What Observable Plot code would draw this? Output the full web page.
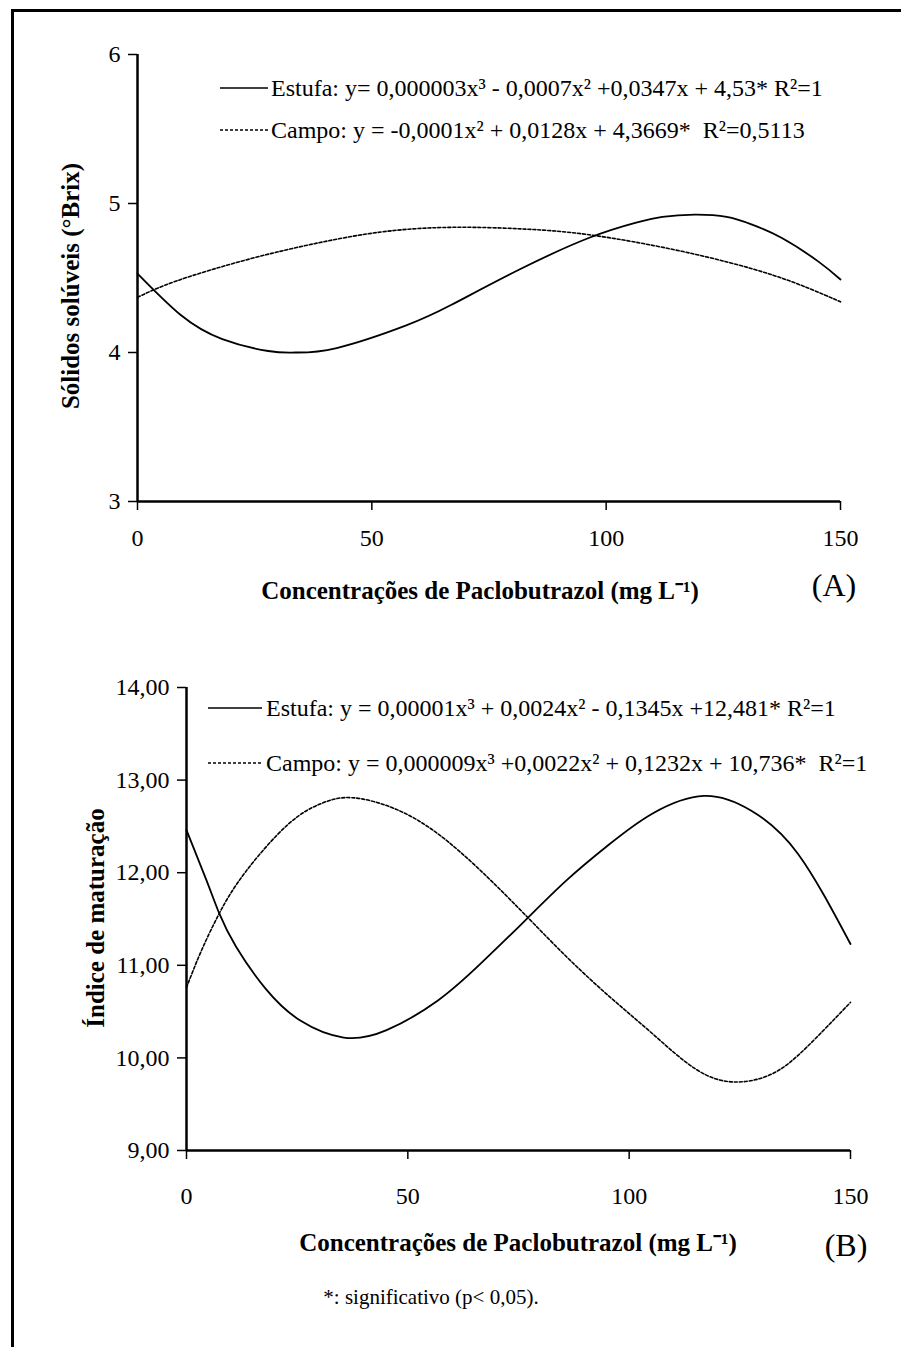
<!DOCTYPE html>
<html><head><meta charset="utf-8">
<script src="https://cdn.jsdelivr.net/npm/d3@7"></script>
<script src="https://cdn.jsdelivr.net/npm/@observablehq/plot@0.6"></script>
<style>
body{margin:0;background:#fff;}
#root{position:relative;width:901px;height:1347px;overflow:hidden;background:#fff;font-family:"Liberation Serif","Times New Roman",serif;color:#000;}
#frame{position:absolute;left:11px;top:9px;width:1000px;height:1400px;border-left:3px solid #000;border-top:3px solid #000;}
.abs{position:absolute;white-space:pre;line-height:1;}
.panel{position:absolute;left:0;}
</style></head><body><div id="root"><div id="frame"></div></div>
<script>
// ---- Data ----
const xTicks = [0, 50, 100, 150];
const yTicksA = [3, 4, 5, 6];
const yTicksB = [9, 10, 11, 12, 13, 14];

const estufaA_x = [0, 9.3, 18.1, 27.9, 33.7, 42.5, 57.2, 67, 81.7, 96.4, 106.2, 112, 118.9, 125.7, 131, 137.4, 145.3, 150];
const estufaA_y = [4.53, 4.25, 4.09, 4.01, 4.0, 4.03, 4.18, 4.32, 4.56, 4.77, 4.87, 4.91, 4.925, 4.91, 4.86, 4.77, 4.61, 4.49];
const campoA_x = [0, 8.3, 23, 37.7, 52.3, 67, 81.7, 96.4, 116, 135.5, 150];
const campoA_y = [4.37, 4.48, 4.62, 4.73, 4.81, 4.84, 4.83, 4.79, 4.68, 4.52, 4.34];

const estufaB_x = [0, 4.5, 7.4, 11.2, 18, 25.8, 35.5, 45.2, 56.8, 66.5, 76.2, 85.9, 95.6, 105.3, 116.9, 127.6, 138.2, 150];
const estufaB_y = [12.46, 11.92, 11.56, 11.20, 10.74, 10.40, 10.22, 10.30, 10.62, 11.02, 11.47, 11.92, 12.31, 12.64, 12.83, 12.67, 12.20, 11.23];
const campoB_x = [0, 3.2, 7.4, 13.2, 22.9, 30.6, 37.4, 47.1, 56.8, 66.5, 76.2, 85.9, 95.6, 105.3, 115, 123.7, 132.4, 140.2, 150];
const campoB_y = [10.76, 11.14, 11.56, 12.0, 12.52, 12.75, 12.81, 12.69, 12.42, 12.02, 11.56, 11.09, 10.66, 10.26, 9.88, 9.74, 9.83, 10.12, 10.60];

const legendA = ["Estufa: y= 0,000003x³ - 0,0007x² +0,0347x + 4,53* R²=1",
                 "Campo: y = -0,0001x² + 0,0128x + 4,3669*  R²=0,5113"];
const legendB = ["Estufa: y = 0,00001x³ + 0,0024x² - 0,1345x +12,481* R²=1",
                 "Campo: y = 0,000009x³ +0,0022x² + 0,1232x + 10,736*  R²=1"];
const xTitle = "Concentrações de Paclobutrazol (mg L⁻¹)";
const yTitleA = "Sólidos solúveis (°Brix)";
const yTitleB = "Índice de maturação";
const footnote = "*: significativo (p< 0,05).";

const zip = (xs, ys) => xs.map((x, i) => ({x, y: ys[i]}));
const root = document.getElementById("root");
const FONT = "Liberation Serif";

function panel(top, cfg) {
  const p = Plot.plot({
    width: 901, height: cfg.height,
    marginLeft: cfg.ml, marginRight: cfg.mr, marginTop: cfg.mt, marginBottom: cfg.mb,
    x: {domain: [0, 150]},
    y: {domain: cfg.ydomain},
    style: {fontFamily: FONT, background: "transparent", color: "#000", overflow: "visible"},
    marks: [
      Plot.axisY({ticks: cfg.yticks, tickFormat: cfg.yfmt, tickSize: 9, tickPadding: cfg.ypad, fontSize: 24, strokeWidth: 1.5, label: null}),
      Plot.axisX({ticks: xTicks, tickSize: 9, tickPadding: cfg.xpad, fontSize: 24, strokeWidth: 1.5, label: null}),
      Plot.ruleX([0], {strokeWidth: 2.5}),
      Plot.ruleY([cfg.ydomain[0]], {strokeWidth: 2.5}),
      Plot.line(cfg.estufa, {x: "x", y: "y", curve: "natural", stroke: "#000", strokeWidth: 1.8}),
      Plot.line(cfg.campo, {x: "x", y: "y", curve: "natural", stroke: "#000", strokeWidth: 1.6, strokeDasharray: "3,2"})
    ]
  });
  const d = document.createElement("div");
  d.className = "panel"; d.style.top = top + "px";
  d.appendChild(p);
  root.appendChild(d);
}

panel(0, {height: 620, ml: 137, mr: 61, mt: 54, mb: 119, ydomain: [3, 6], yticks: yTicksA,
  yfmt: d => String(d), ypad: 8, xpad: 18,
  estufa: zip(estufaA_x, estufaA_y), campo: zip(campoA_x, campoA_y)});
panel(620, {height: 640, ml: 186, mr: 51, mt: 67, mb: 110, ydomain: [9, 14], yticks: yTicksB,
  yfmt: d => d.toFixed(2).replace(".", ","), ypad: 8, xpad: 27,
  estufa: zip(estufaB_x, estufaB_y), campo: zip(campoB_x, campoB_y)});

function text(str, x, y, opts = {}) {
  const d = document.createElement("div");
  d.className = "abs";
  d.textContent = str;
  d.style.fontSize = (opts.fs || 24) + "px";
  if (opts.bold) d.style.fontWeight = "bold";
  d.style.left = x + "px"; d.style.top = y + "px";
  const ax = opts.anchor === "middle" ? "-50%" : "0";
  d.style.transform = opts.rotate ? "translate(-50%,-50%) rotate(-90deg)" : `translate(${ax},-50%)`;
  root.appendChild(d);
}
function sample(x1, x2, y, dashed) {
  const ns = "http://www.w3.org/2000/svg";
  const s = document.createElementNS(ns, "svg");
  s.setAttribute("width", x2 - x1); s.setAttribute("height", 6);
  s.style.position = "absolute"; s.style.left = x1 + "px"; s.style.top = (y - 3) + "px";
  const l = document.createElementNS(ns, "line");
  l.setAttribute("x1", 0); l.setAttribute("x2", x2 - x1); l.setAttribute("y1", 3); l.setAttribute("y2", 3);
  l.setAttribute("stroke", "#000"); l.setAttribute("stroke-width", 1.6);
  if (dashed) l.setAttribute("stroke-dasharray", "3,2");
  s.appendChild(l); root.appendChild(s);
}

// Panel A texts
sample(220, 268, 88, false);
text(legendA[0], 271, 88);
sample(220, 268, 130, true);
text(legendA[1], 271, 130);
text(xTitle, 480, 590, {fs: 25, bold: true, anchor: "middle"});
text("(A)", 834, 585, {fs: 32, anchor: "middle"});
text(yTitleA, 70, 286, {fs: 25, bold: true, rotate: true});

// Panel B texts
sample(208, 262, 708, false);
text(legendB[0], 266, 708);
sample(208, 262, 763, true);
text(legendB[1], 266, 763);
text(xTitle, 518, 1242, {fs: 25, bold: true, anchor: "middle"});
text("(B)", 846, 1245, {fs: 32, anchor: "middle"});
text(yTitleB, 95, 918, {fs: 25, bold: true, rotate: true});

text(footnote, 431, 1297, {fs: 21, anchor: "middle"});
</script></body></html>
